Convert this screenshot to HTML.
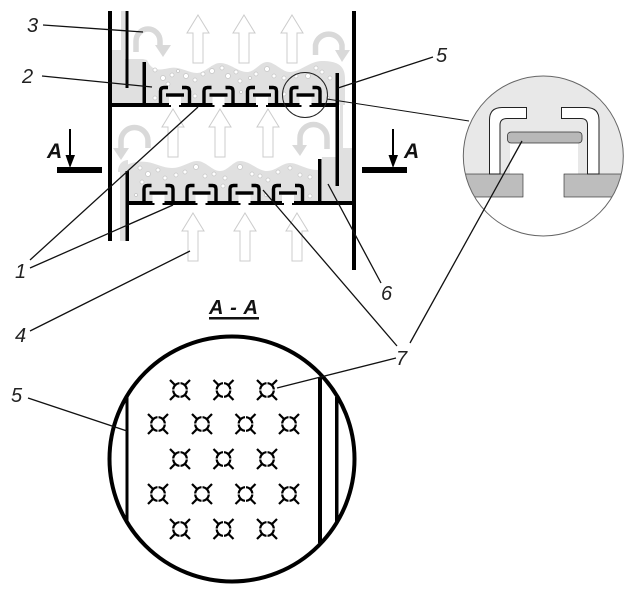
<!DOCTYPE html>
<html><head><meta charset="utf-8"><style>
html,body{margin:0;padding:0;background:#fff;width:642px;height:612px;overflow:hidden}
svg{display:block}
text{font-family:"Liberation Sans",sans-serif;font-style:italic;fill:#222}
.n{font-size:20px}
.b{font-size:21px;font-weight:bold;fill:#111}
</style></head><body>
<svg width="642" height="612" viewBox="0 0 642 612" xmlns="http://www.w3.org/2000/svg">
<defs>
<g id="arrow"><polygon points="0,0 11,18 5,18 5,48 -5,48 -5,18 -11,18" fill="#fff" stroke="#ccc" stroke-width="1"/></g>
<g id="cap">
<rect x="-6" y="-8" width="12" height="8" fill="#fff"/>
<rect x="-4" y="-2" width="8" height="5" fill="#fff"/>
<path d="M-14.500,0V-14Q-14.500,-17.500 -11,-17.500H-7M14.500,0V-14Q14.500,-17.500 11,-17.500H7" fill="none" stroke="#000" stroke-width="3.400"/>
<rect x="-9" y="-11.700" width="18" height="3.400" fill="#000"/>
</g>
<g id="hole" fill="none" stroke="#000" stroke-width="2.200">
<circle r="6.800"/>
<path d="M-10,-10L-4.500,-4.500M10,-10L4.500,-4.500M-10,10L-4.500,4.500M10,10L4.500,4.500"/>
<path d="M0,-8.500V-5.500M0,8.500V5.500M-8.500,0H-5.500M8.500,0H5.500" stroke="#fff" stroke-width="1"/>
</g>
<clipPath id="c1"><circle cx="543.300" cy="156" r="80"/></clipPath>
</defs>

<!-- upper liquid -->
<path d="M112,50H121V11H125V59H143L147,60C152,72 160,70 170,68C180,66 188,73 197,73C205,73 212,63 220,63C230,63 238,72 247,72C255,72 260,62 267,62C275,62 282,72 290,72C300,72 310,61 322,61C335,61 345,64 345,78V105H112Z" fill="#e0e0e0"/>
<path d="M340,105H343V148H352V203H322V157H338V120H340Z" fill="#e0e0e0"/>
<path d="M127,165C132,162 140,161 147,162C155,163 163,168 172,168C182,168 190,161 197,161C206,161 212,171 220,171C228,171 233,161 240,161C250,161 258,171 267,171C276,171 282,163 290,163C298,163 306,170 318,170V203H127Z" fill="#e0e0e0"/>
<path d="M118,172C118,163 124,160 128,160V241H120V172Z" fill="#e0e0e0"/>

<!-- bubbles -->
<g fill="#fff" stroke="#c4c4c4" stroke-width=".7">
<circle cx="155" cy="70" r="2"/><circle cx="163" cy="78" r="2.500"/><circle cx="172" cy="75" r="2"/><circle cx="168" cy="84" r="2"/><circle cx="178" cy="71" r="1.500"/><circle cx="186" cy="76" r="2.500"/><circle cx="195" cy="80" r="2"/><circle cx="203" cy="74" r="2"/><circle cx="212" cy="71" r="2.500"/><circle cx="222" cy="68" r="2"/><circle cx="228" cy="76" r="2.500"/><circle cx="236" cy="72" r="2"/><circle cx="240" cy="81" r="2"/><circle cx="250" cy="78" r="1.500"/><circle cx="256" cy="74" r="2"/><circle cx="267" cy="69" r="2.500"/><circle cx="274" cy="76" r="2"/><circle cx="284" cy="78" r="2"/><circle cx="296" cy="76" r="2"/><circle cx="308" cy="76" r="2.500"/><circle cx="316" cy="68" r="2"/><circle cx="322" cy="72" r="2"/><circle cx="330" cy="78" r="2"/><circle cx="155" cy="98" r="2"/><circle cx="195" cy="96" r="2"/><circle cx="241" cy="92" r="1.500"/><circle cx="284" cy="94" r="2"/><circle cx="328" cy="98" r="1.500"/>
<circle cx="140" cy="168" r="2"/><circle cx="148" cy="174" r="2.500"/><circle cx="158" cy="170" r="2"/><circle cx="142" cy="182" r="2"/><circle cx="165" cy="178" r="2"/><circle cx="176" cy="175" r="2"/><circle cx="185" cy="172" r="2"/><circle cx="196" cy="167" r="2.500"/><circle cx="205" cy="176" r="2"/><circle cx="214" cy="174" r="2"/><circle cx="225" cy="178" r="2"/><circle cx="240" cy="167" r="2.500"/><circle cx="252" cy="174" r="2"/><circle cx="260" cy="176" r="2"/><circle cx="268" cy="180" r="2"/><circle cx="278" cy="172" r="2"/><circle cx="290" cy="168" r="2"/><circle cx="300" cy="175" r="2"/><circle cx="310" cy="177" r="2"/><circle cx="136" cy="195" r="1.500"/><circle cx="223" cy="186" r="2"/><circle cx="266" cy="195" r="1.500"/><circle cx="310" cy="196" r="2"/>
</g>

<!-- straight arrows -->
<use href="#arrow" x="198" y="15"/><use href="#arrow" x="244" y="15"/><use href="#arrow" x="292" y="15"/>
<use href="#arrow" x="173" y="109"/><use href="#arrow" x="220" y="109"/><use href="#arrow" x="268" y="109"/>
<use href="#arrow" x="193" y="213"/><use href="#arrow" x="245" y="213"/><use href="#arrow" x="297" y="213"/>

<!-- curved arrows -->
<g fill="none" stroke="#d9d9d9" stroke-width="5.500">
<path d="M136,52V41A12,12 0 0 1 160,41V46"/>
<path d="M315.500,55V45A13.500,13.500 0 0 1 342,45V51"/>
<path d="M148,148V141A13,13 0 0 0 121,141V149"/>
<path d="M327,149V138A13.500,13.500 0 0 0 300,138V146"/>
</g>
<g fill="#d9d9d9">
<polygon points="155,45 171,45 163,57"/>
<polygon points="335,50 350,50 342,62"/>
<polygon points="113,148 129,148 121,160"/>
<polygon points="292,145 307,145 300,156"/>
</g>

<!-- column walls -->
<g fill="#000">
<rect x="108" y="11" width="4" height="230"/>
<rect x="352" y="11" width="4" height="259"/>
<rect x="125.500" y="11" width="3" height="77"/>
<rect x="142.500" y="62" width="3.500" height="43"/>
<rect x="335.500" y="73" width="3.500" height="113"/>
<rect x="125.500" y="171" width="3.500" height="70"/>
<rect x="318" y="159" width="3.500" height="44"/>
<rect x="110" y="103" width="227" height="4"/>
<rect x="127" y="201" width="227" height="4"/>
</g>

<use href="#cap" x="175" y="105"/><use href="#cap" x="218.500" y="105"/><use href="#cap" x="262" y="105"/><use href="#cap" x="305.500" y="105"/>
<use href="#cap" x="158.500" y="203"/><use href="#cap" x="201.500" y="203"/><use href="#cap" x="244.500" y="203"/><use href="#cap" x="288" y="203"/>

<circle cx="305" cy="95" r="22.500" fill="none" stroke="#222" stroke-width="1"/>

<!-- section markers -->
<g fill="#000">
<rect x="57" y="167" width="45" height="6"/><rect x="362" y="167" width="45" height="6"/>
<rect x="69" y="129" width="2" height="30"/><rect x="392" y="129" width="2" height="30"/>
<polygon points="65.500,155 75,155 70,168"/><polygon points="388.500,155 398,155 393,168"/>
</g>
<text class="b" x="47" y="158">A</text>
<text class="b" x="404" y="158">A</text>

<!-- inset -->
<g clip-path="url(#c1)">
<rect x="460" y="70" width="170" height="104" fill="#e8e8e8"/>
<rect x="510" y="143" width="68" height="31" fill="#fff"/>
<rect x="460" y="174" width="63" height="23" fill="#bdbdbd" stroke="#222" stroke-width=".6"/>
<rect x="564" y="174" width="66" height="23" fill="#bdbdbd" stroke="#222" stroke-width=".6"/>
<path d="M489.500,174V120Q489.500,107.500 502,107.500H526.500V118.500H507Q500,118.500 500,125V174Z" fill="#fff" stroke="#222" stroke-width="1"/>
<path d="M599,174V120Q599,107.500 586,107.500H561.500V118.500H581Q587.500,118.500 587.500,125V174Z" fill="#fff" stroke="#222" stroke-width="1"/>
<rect x="507.500" y="132" width="74.500" height="11" rx="3.500" fill="#b8b8b8" stroke="#333" stroke-width=".8"/>
</g>
<circle cx="543.300" cy="156" r="80" fill="none" stroke="#666" stroke-width="1"/>

<!-- section view -->
<circle cx="232" cy="459" r="122.500" fill="#fff" stroke="#000" stroke-width="4"/>
<g fill="#000">
<rect x="125.500" y="397" width="3" height="125"/>
<rect x="318" y="377" width="4" height="166"/>
<rect x="335" y="397" width="3.500" height="125"/>
</g>
<use href="#hole" x="180" y="390"/><use href="#hole" x="223.500" y="390"/><use href="#hole" x="267" y="390"/>
<use href="#hole" x="158" y="424"/><use href="#hole" x="202" y="424"/><use href="#hole" x="245.500" y="424"/><use href="#hole" x="289" y="424"/>
<use href="#hole" x="180" y="459"/><use href="#hole" x="223.500" y="459"/><use href="#hole" x="267" y="459"/>
<use href="#hole" x="158" y="494"/><use href="#hole" x="202" y="494"/><use href="#hole" x="245.500" y="494"/><use href="#hole" x="289" y="494"/>
<use href="#hole" x="180" y="529"/><use href="#hole" x="223.500" y="529"/><use href="#hole" x="267" y="529"/>

<!-- leaders -->
<g stroke="#111" stroke-width="1.300" fill="none">
<path d="M43,25L143,32"/>
<path d="M42,76L152,87"/>
<path d="M30,260L198,107"/>
<path d="M30,268L173,205"/>
<path d="M30,331L190,251"/>
<path d="M28,398L127,431"/>
<path d="M433,57L338,88"/>
<path d="M327,99L469,121" stroke-width="1"/>
<path d="M381,283L328,184"/>
<path d="M397,346L263,190"/>
<path d="M410,343L522,141"/>
<path d="M396,358L277,388"/>
</g>

<!-- labels -->
<text class="n" x="27" y="32">3</text>
<text class="n" x="22" y="83">2</text>
<text class="n" x="15" y="278">1</text>
<text class="n" x="15" y="342">4</text>
<text class="n" x="11" y="402">5</text>
<text class="n" x="436" y="62">5</text>
<text class="n" x="381" y="300">6</text>
<text class="n" x="396" y="365">7</text>
<text class="b" x="209" y="314" style="font-size:20px" textLength="49" lengthAdjust="spacing" xml:space="preserve">A - A</text>
<rect x="209" y="317" width="50" height="2.500" fill="#111"/>
</svg>
</body></html>
